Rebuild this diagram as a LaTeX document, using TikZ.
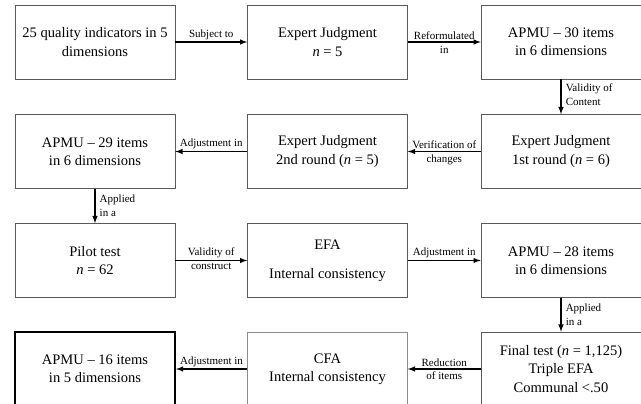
\documentclass[tikz,border=0pt]{standalone}
\usepackage{fontspec}
\setmainfont{Liberation Serif}
\usepackage{tikz}

\begin{document}
\begin{tikzpicture}[x=0.03cm,y=-0.03cm]
\tikzstyle{box}=[draw=black!65,line width=0.6pt,minimum width=4.8cm,minimum height=2.22cm,align=center,font=\fontsize{12.4}{15.5}\selectfont];
\tikzstyle{lbl}=[inner sep=1.5pt,font=\fontsize{9.4}{12}\selectfont];
\tikzstyle{arr}=[-latex,line width=1.1pt];
\useasboundingbox (0,0) rectangle (641,404);
% row 1
\node[box] (ind) at (95,42) {25 quality indicators in 5\\dimensions};
\node[box] (ej) at (327.5,42) {Expert Judgment\\\textit{n} = 5};
\node[box] (ap30) at (561,42) {APMU -- 30 items\\in 6 dimensions};
% row 2
\node[box] (ap29) at (95,151.5) {APMU -- 29 items\\in 6 dimensions};
\node[box] (ej2) at (327.5,151.5) {Expert Judgment\\2nd round (\textit{n} = 5)};
\node[box] (ej1) at (561,151.5) {Expert Judgment\\1st round (\textit{n} = 6)};
% row 3
\node[box] (pilot) at (95,260.5) {Pilot test\\\textit{n} = 62};
\node[box] (efa) at (327.5,260.5) {EFA\\[9pt]Internal consistency};
\node[box] (ap28) at (561,260.5) {APMU -- 28 items\\in 6 dimensions};
% row 4
\node[box,draw=black,line width=1.7pt] (ap16) at (95,369) {APMU -- 16 items\\in 5 dimensions};
\node[box,draw=black!45] (cfa) at (327.5,369) {CFA\\Internal consistency};
\node[box] (final) at (561,369) {Final test (\textit{n} = 1,125)\\Triple EFA\\Communal <.50};

\draw[arr] (ind) -- node[lbl,above] {Subject to} (ej);
\draw[arr] (ej) -- node[lbl,above] {Reformulated} node[lbl,below,inner sep=3pt] {in} (ap30);
\draw[arr] (ap30) -- node[lbl,right,align=left,xshift=2pt,yshift=2pt] {Validity of\\Content} (ej1);
\draw[arr] (ej1) -- node[lbl,above] {Verification of} node[lbl,below,inner sep=2.5pt] {changes} (ej2);
\draw[arr] (ej2) -- node[lbl,above] {Adjustment in} (ap29);
\draw[arr] (ap29) -- node[lbl,right,align=left,xshift=2pt] {Applied\\in a} (pilot);
\draw[arr] (pilot) -- node[lbl,above] {Validity of} node[lbl,below] {construct} (efa);
\draw[arr] (efa) -- node[lbl,above] {Adjustment in} (ap28);
\draw[arr] (ap28) -- node[lbl,right,align=left,xshift=2pt] {Applied\\in a} (final);
\draw[arr] (final) -- node[lbl,above] {Reduction} node[lbl,below,inner sep=2pt] {of items} (cfa);
\draw[arr] (cfa) -- node[lbl,above] {Adjustment in} (ap16);
\end{tikzpicture}
\end{document}
